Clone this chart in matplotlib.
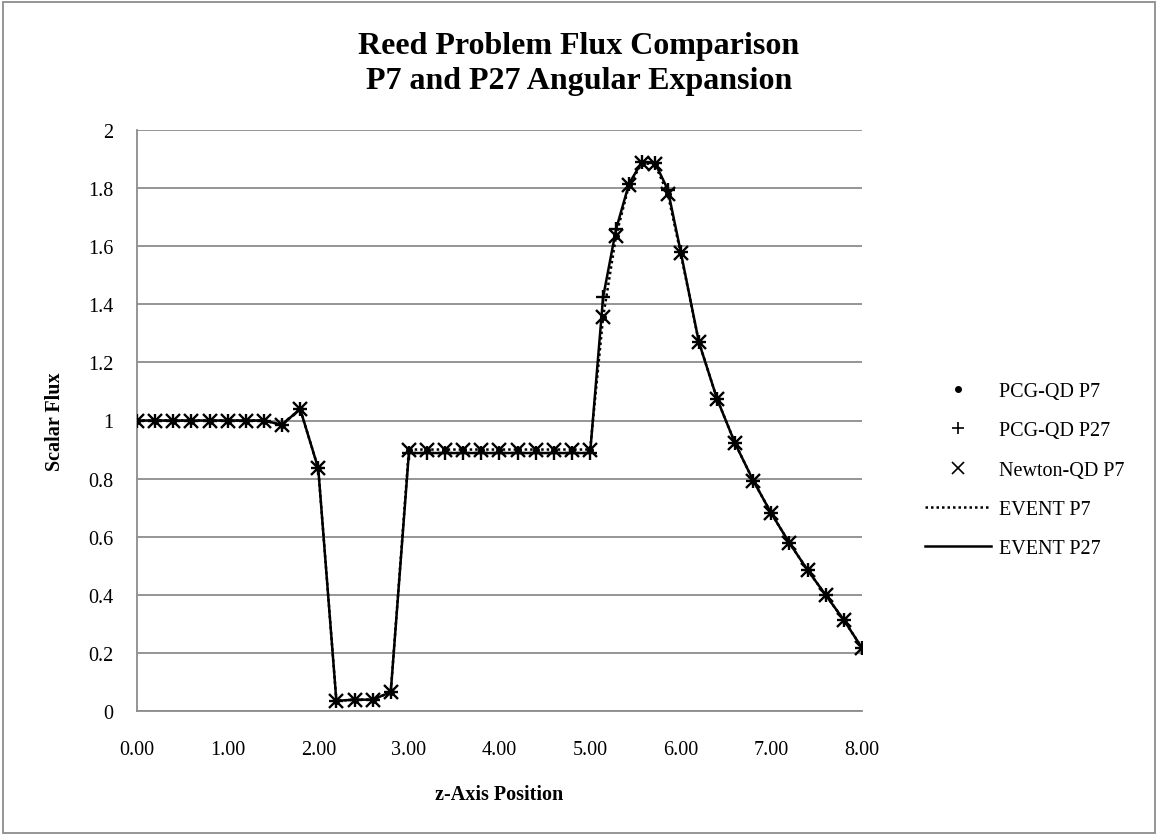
import matplotlib
matplotlib.use("Agg")
import matplotlib.pyplot as plt
from matplotlib.lines import Line2D
from matplotlib.patches import Rectangle

plt.rcParams['font.family'] = ['Liberation Serif', 'DejaVu Serif']

# ---- data ----
z_pos = [0.0, 0.2, 0.4, 0.6, 0.8, 1.0, 1.2, 1.4, 1.6, 1.8, 2.0, 2.2, 2.4, 2.6, 2.8,
         3.0, 3.2, 3.4, 3.6, 3.8, 4.0, 4.2, 4.4, 4.6, 4.8, 5.0,
         5.143, 5.286, 5.429, 5.571, 5.714, 5.857,
         6.0, 6.2, 6.4, 6.6, 6.8, 7.0, 7.2, 7.4, 7.6, 7.8, 8.0]

pcg_qd_p7 = [1.0, 1.0, 1.0, 1.0, 1.0, 1.0, 1.0, 1.0, 0.985, 1.04, 0.835, 0.035, 0.039, 0.039, 0.065,
             0.90, 0.90, 0.90, 0.90, 0.90, 0.90, 0.90, 0.90, 0.90, 0.90, 0.90,
             1.355, 1.635, 1.81, 1.885, 1.883, 1.78,
             1.575, 1.27, 1.075, 0.921, 0.793, 0.68, 0.578, 0.485, 0.399, 0.313, 0.217]

pcg_qd_p27 = [1.0, 1.0, 1.0, 1.0, 1.0, 1.0, 1.0, 1.0, 0.985, 1.04, 0.835, 0.035, 0.039, 0.039, 0.065,
              0.888, 0.888, 0.888, 0.888, 0.888, 0.888, 0.888, 0.888, 0.888, 0.888, 0.888,
              1.424, 1.658, 1.815, 1.89, 1.888, 1.795,
              1.58, 1.27, 1.075, 0.921, 0.793, 0.68, 0.578, 0.485, 0.399, 0.313, 0.217]

newton_qd_p7 = [1.0, 1.0, 1.0, 1.0, 1.0, 1.0, 1.0, 1.0, 0.985, 1.04, 0.835, 0.035, 0.039, 0.039, 0.065,
                0.90, 0.90, 0.90, 0.90, 0.90, 0.90, 0.90, 0.90, 0.90, 0.90, 0.90,
                1.355, 1.635, 1.81, 1.885, 1.883, 1.78,
                1.575, 1.27, 1.075, 0.921, 0.793, 0.68, 0.578, 0.485, 0.399, 0.313, 0.217]

event_p7 = [1.0, 1.0, 1.0, 1.0, 1.0, 1.0, 1.0, 1.0, 0.985, 1.04, 0.835, 0.035, 0.039, 0.039, 0.065,
            0.90, 0.90, 0.90, 0.90, 0.90, 0.90, 0.90, 0.90, 0.90, 0.90, 0.90,
            1.355, 1.635, 1.81, 1.885, 1.883, 1.78,
            1.575, 1.27, 1.075, 0.921, 0.793, 0.68, 0.578, 0.485, 0.399, 0.313, 0.217]

event_p27 = [1.0, 1.0, 1.0, 1.0, 1.0, 1.0, 1.0, 1.0, 0.985, 1.04, 0.835, 0.035, 0.039, 0.039, 0.065,
             0.888, 0.888, 0.888, 0.888, 0.888, 0.888, 0.888, 0.888, 0.888, 0.888, 0.888,
             1.424, 1.658, 1.815, 1.89, 1.888, 1.795,
             1.58, 1.27, 1.075, 0.921, 0.793, 0.68, 0.578, 0.485, 0.399, 0.313, 0.217]

x_ticks = [0, 1, 2, 3, 4, 5, 6, 7, 8]
x_tick_labels = ['0.00', '1.00', '2.00', '3.00', '4.00', '5.00', '6.00', '7.00', '8.00']
y_ticks = [0, 0.2, 0.4, 0.6, 0.8, 1.0, 1.2, 1.4, 1.6, 1.8, 2.0]
y_tick_labels = ['0', '0.2', '0.4', '0.6', '0.8', '1', '1.2', '1.4', '1.6', '1.8', '2']

title = "Reed Problem Flux Comparison\nP7 and P27 Angular Expansion"
series_names = ['PCG-QD P7', 'PCG-QD P27', 'Newton-QD P7', 'EVENT P7', 'EVENT P27']

# ---- figure ----
W, H = 1158, 837
fig = plt.figure(figsize=(W / 100, H / 100), dpi=100)
ax = fig.add_axes([137 / W, (H - 712) / H, 725 / W, (712 - 131) / H])

grid_c = '#8c8c8c'
fs = 14.5

ax.plot(z_pos, event_p7, linestyle=(0, (1, 1.2)), color='black', lw=1.8, zorder=3)
ax.plot(z_pos, event_p27, linestyle='-', color='black', lw=1.8, zorder=3)
ax.plot(z_pos, newton_qd_p7, linestyle='none', marker='x', ms=9.5, mew=1.7, color='black', zorder=4)
ax.plot(z_pos, pcg_qd_p27, linestyle='none', marker='+', ms=10.5, mew=1.7, color='black', zorder=4)
ax.plot(z_pos, pcg_qd_p7, linestyle='none', marker='o', ms=4, color='black', zorder=5)

ax.set_xlim(0, 8)
ax.set_ylim(0, 2)
ax.set_xticks(x_ticks)
ax.set_xticklabels(x_tick_labels)
ax.set_yticks(y_ticks)
ax.set_yticklabels(y_tick_labels)
ax.tick_params(axis='both', length=0, labelsize=fs)
ax.tick_params(axis='y', pad=17)
ax.tick_params(axis='x', pad=21)
ax.grid(axis='y', color=grid_c, lw=1.3)
ax.set_axisbelow(True)
for s in ['top', 'right']:
    ax.spines[s].set_visible(False)
for s in ['left', 'bottom']:
    ax.spines[s].set_color(grid_c)
    ax.spines[s].set_linewidth(1.3)

fig.text(579 / W, 1 - 64 / H, title, ha='center', va='center', fontsize=23,
         fontweight='bold', linespacing=1.3)
fig.text(55 / W, 1 - 422 / H, 'Scalar Flux', rotation=90, ha='center', va='center',
         fontsize=fs, fontweight='bold')
fig.text(499 / W, 1 - 795 / H, 'z-Axis Position', ha='center', va='center',
         fontsize=fs, fontweight='bold')

handles = [
    Line2D([], [], linestyle='none', marker='o', ms=4, color='black'),
    Line2D([], [], linestyle='none', marker='+', ms=9, mew=1.2, color='black'),
    Line2D([], [], linestyle='none', marker='x', ms=8, mew=1.2, color='black'),
    Line2D([], [], linestyle=(0, (1, 1.2)), lw=1.8, color='black'),
    Line2D([], [], linestyle='-', lw=1.8, color='black'),
]
fig.legend(handles, series_names, loc='center left', bbox_to_anchor=(925 / W, 1 - 471 / H),
           frameon=False, fontsize=fs, handlelength=3.3, handletextpad=0.35,
           labelspacing=1.0, borderpad=0, borderaxespad=0)

fig.add_artist(Rectangle((3 / W, 3 / H), (W - 6) / W, (H - 6) / H, transform=fig.transFigure,
                         fill=False, edgecolor='#8c8c8c', lw=1.3))

fig.savefig('out.png', dpi=100)
